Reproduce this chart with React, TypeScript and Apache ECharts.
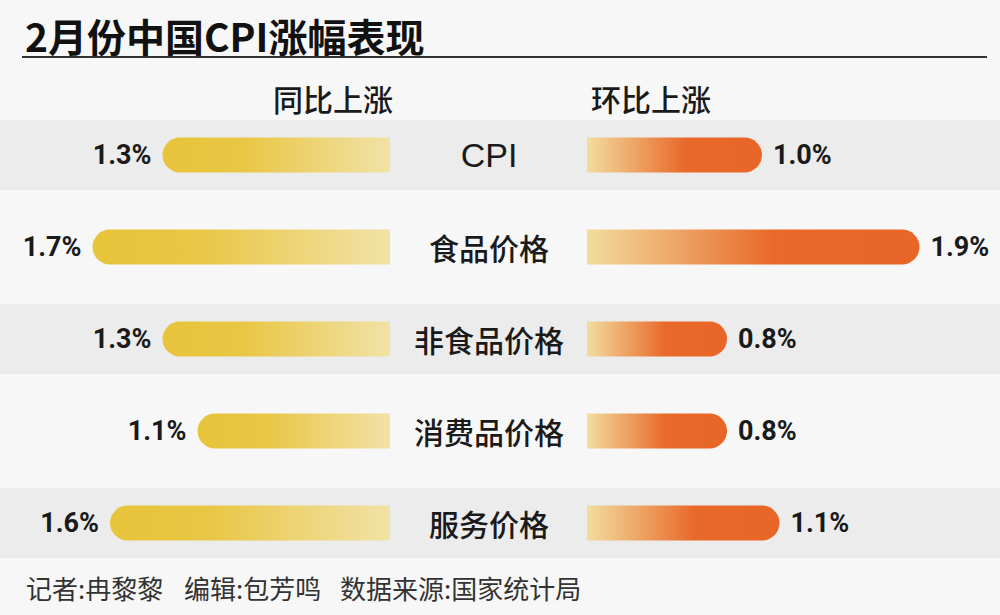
import { useEffect, useRef } from "react";
import * as echarts from "echarts";

const chartTitle = "2月份中国CPI涨幅表现";
const yoyHeader = "同比上涨";
const momHeader = "环比上涨";
const footerParts = ["记者:冉黎黎", "编辑:包芳鸣", "数据来源:国家统计局"];

const categories = ["CPI", "食品价格", "非食品价格", "消费品价格", "服务价格"];
// year-on-year rise (%)
const yoyValues = [1.3, 1.7, 1.3, 1.1, 1.6];
// month-on-month rise (%)
const momValues = [1.0, 1.9, 0.8, 0.8, 1.1];
// shaded row bands
const bandValues = [1, null, 1, null, 1];

const CJK_FONT = "'Noto Sans CJK SC', 'Noto Sans', sans-serif";
const NUM_FONT = "Roboto, 'Liberation Sans', sans-serif";
const LATIN_FONT = "'Liberation Sans', Arial, sans-serif";

export default function App() {
  const chartRef = useRef<HTMLDivElement>(null);

  useEffect(() => {
    if (!chartRef.current) return;
    document.body.style.margin = "0";

    const chart = echarts.init(chartRef.current, undefined, { renderer: "svg" });

    const yoyGradient = new echarts.graphic.LinearGradient(0, 0, 1, 0, [
      { offset: 0, color: "#e8c43b" },
      { offset: 0.35, color: "#e9c644" },
      { offset: 1, color: "#f1e2a7" },
    ]);
    const momGradient = new echarts.graphic.LinearGradient(0, 0, 1, 0, [
      { offset: 0, color: "#f2dd9e" },
      { offset: 0.56, color: "#e8692a" },
      { offset: 1, color: "#e86627" },
    ]);

    const valueLabel = (position: string) => ({
      show: true,
      position,
      distance: 11,
      fontFamily: NUM_FONT,
      fontSize: 27,
      fontWeight: "bold",
      color: "#1a1a1a",
      formatter: (p: { value: number }) => `${p.value.toFixed(1)}%`,
    });

    const footerLefts = [21, 179, 335];
    const rowTop = 109;
    const rowHeight = 460;

    chart.setOption({
      animation: false,
      backgroundColor: "#f7f7f7",
      textStyle: { fontFamily: CJK_FONT },
      title: [
        {
          text: chartTitle,
          left: 20,
          top: 10,
          textStyle: { fontSize: 39, fontWeight: "bold", color: "#111", fontFamily: CJK_FONT },
        },
        {
          text: yoyHeader,
          left: 268,
          top: 78,
          textStyle: { fontSize: 30, fontWeight: 500, color: "#1a1a1a", fontFamily: CJK_FONT },
        },
        {
          text: momHeader,
          left: 586,
          top: 78,
          textStyle: { fontSize: 30, fontWeight: 500, color: "#1a1a1a", fontFamily: CJK_FONT },
        },
        ...footerParts.map((t, i) => ({
          text: t,
          left: footerLefts[i],
          top: 569,
          textStyle: { fontSize: 26, fontWeight: "normal", color: "#333", fontFamily: CJK_FONT },
        })),
      ],
      graphic: [
        {
          type: "line",
          shape: { x1: 22, y1: 57, x2: 987, y2: 57 },
          style: { stroke: "#333", lineWidth: 2 },
          silent: true,
        },
      ],
      grid: [
        { left: 0, right: 0, top: rowTop, height: rowHeight },
        { left: 40, width: 350, top: rowTop, height: rowHeight },
        { left: 587, width: 350, top: rowTop, height: rowHeight },
      ],
      xAxis: [
        { gridIndex: 0, type: "value", min: 0, max: 1, show: false },
        { gridIndex: 1, type: "value", min: 0, max: 2, inverse: true, show: false },
        { gridIndex: 2, type: "value", min: 0, max: 2, show: false },
      ],
      yAxis: [
        { gridIndex: 0, type: "category", data: categories, inverse: true, show: false },
        {
          gridIndex: 1,
          type: "category",
          data: categories,
          inverse: true,
          position: "right",
          z: 10,
          axisLine: { show: false },
          axisTick: { show: false },
          splitLine: { show: false },
          axisLabel: {
            margin: 99,
            align: "center",
            fontSize: 30,
            fontWeight: 500,
            color: "#1a1a1a",
            fontFamily: CJK_FONT,
            // Latin-only names use a Helvetica-like face
            formatter: (v: string) => (/^[A-Za-z]+$/.test(v) ? `{latin|${v}}` : v),
            rich: {
              latin: { fontFamily: LATIN_FONT, fontSize: 34, color: "#1a1a1a" },
            },
          },
        },
        { gridIndex: 2, type: "category", data: categories, inverse: true, show: false },
      ],
      series: [
        {
          name: "band",
          type: "bar",
          xAxisIndex: 0,
          yAxisIndex: 0,
          barWidth: 70,
          silent: true,
          z: 0,
          itemStyle: { color: "#ececec" },
          data: bandValues,
        },
        {
          name: yoyHeader,
          type: "bar",
          xAxisIndex: 1,
          yAxisIndex: 1,
          barWidth: 35,
          z: 3,
          itemStyle: { color: yoyGradient, borderRadius: [18, 0, 0, 18] },
          label: valueLabel("left"),
          data: yoyValues,
        },
        {
          name: momHeader,
          type: "bar",
          xAxisIndex: 2,
          yAxisIndex: 2,
          barWidth: 35,
          z: 3,
          itemStyle: { color: momGradient, borderRadius: [0, 18, 18, 0] },
          label: valueLabel("right"),
          data: momValues,
        },
      ],
    });

    return () => {
      chart.dispose();
    };
  }, []);

  return <div ref={chartRef} style={{ width: "1000px", height: "615px" }} />;
}
